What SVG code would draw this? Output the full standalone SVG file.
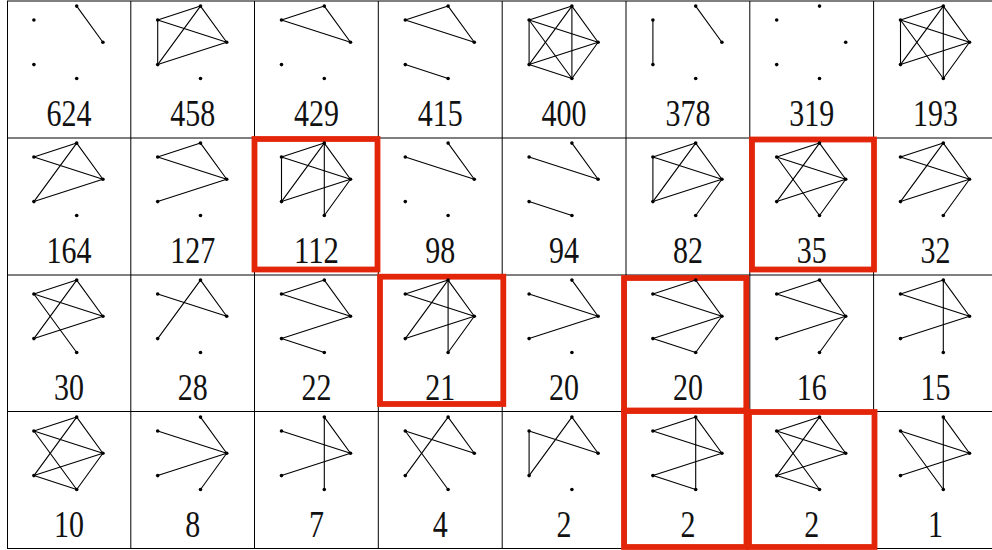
<svg xmlns="http://www.w3.org/2000/svg" xmlns:xlink="http://www.w3.org/1999/xlink" width="992" height="550" viewBox="0 0 992 550">
<style>
.grid line{stroke:#000;stroke-width:1}
.hl rect{fill:none;stroke:#e3260a;stroke-width:5.8}
.edge{stroke:#000;stroke-width:1.1;fill:none;stroke-linecap:round}
.dot{fill:#000}
.lbl{font-family:"Liberation Serif","DejaVu Serif",serif;font-size:38px;fill:#111;text-anchor:middle}
</style>
<defs>
<g id="dots" class="dot">
<circle cx="11.3" cy="-36.2" r="1.8"/>
<circle cx="-31.5" cy="-22.3" r="1.8"/>
<circle cx="37.5" cy="0" r="1.8"/>
<circle cx="-31.5" cy="22.3" r="1.8"/>
<circle cx="11.3" cy="36.2" r="1.8"/>
</g>
<path id="TU" d="M11.3,-36.2L-31.5,-22.3"/>
<path id="TR" d="M11.3,-36.2L37.5,0"/>
<path id="TL" d="M11.3,-36.2L-31.5,22.3"/>
<path id="TB" d="M11.3,-36.2L11.3,36.2"/>
<path id="UR" d="M-31.5,-22.3L37.5,0"/>
<path id="UL" d="M-31.5,-22.3L-31.5,22.3"/>
<path id="UB" d="M-31.5,-22.3L11.3,36.2"/>
<path id="LR" d="M-31.5,22.3L37.5,0"/>
<path id="LB" d="M-31.5,22.3L11.3,36.2"/>
<path id="RB" d="M37.5,0L11.3,36.2"/>
</defs>
<rect width="992" height="550" fill="#fff"/>
<g id="grid" class="grid">
<line x1="7" y1="1" x2="992" y2="1"/>
<line x1="7" y1="138" x2="992" y2="138"/>
<line x1="7" y1="275" x2="992" y2="275"/>
<line x1="7" y1="411.5" x2="992" y2="411.5"/>
<line x1="7" y1="548.5" x2="992" y2="548.5"/>
<line x1="7.5" y1="1" x2="7.5" y2="548.5"/>
<line x1="130.8" y1="1" x2="130.8" y2="548.5"/>
<line x1="254.5" y1="1" x2="254.5" y2="548.5"/>
<line x1="378.3" y1="1" x2="378.3" y2="548.5"/>
<line x1="502.2" y1="1" x2="502.2" y2="548.5"/>
<line x1="626" y1="1" x2="626" y2="548.5"/>
<line x1="749.8" y1="1" x2="749.8" y2="548.5"/>
<line x1="873.6" y1="1" x2="873.6" y2="548.5"/>
</g>
<g id="highlights" class="hl">
<rect x="254.5" y="139" width="123" height="130.5"/>
<rect x="752" y="139.5" width="122" height="130"/>
<rect x="380" y="276.7" width="123.3" height="127.3"/>
<rect x="624" y="278" width="122.3" height="132.5"/>
<rect x="624" y="411" width="122.5" height="136"/>
<rect x="749" y="412" width="125.5" height="135"/>
</g>
<g id="connectors" class="edge">
<g transform="translate(65.4,42.3)"><use href="#TR"/></g>
<g transform="translate(189.2,42.3)"><use href="#TU"/><use href="#UR"/><use href="#UL"/><use href="#TR"/><use href="#TL"/><use href="#LR"/></g>
<g transform="translate(313,42.3)"><use href="#TU"/><use href="#TR"/><use href="#UR"/></g>
<g transform="translate(436.8,42.3)"><use href="#TU"/><use href="#TR"/><use href="#UR"/><use href="#LB"/></g>
<g transform="translate(560.6,42.3)"><use href="#TU"/><use href="#TR"/><use href="#TL"/><use href="#TB"/><use href="#UR"/><use href="#UL"/><use href="#UB"/><use href="#LR"/><use href="#LB"/><use href="#RB"/></g>
<g transform="translate(684.4,42.3)"><use href="#UL"/><use href="#TR"/></g>
<g transform="translate(932,42.3)"><use href="#TU"/><use href="#TR"/><use href="#TL"/><use href="#TB"/><use href="#UR"/><use href="#UL"/><use href="#UB"/><use href="#LR"/><use href="#RB"/></g>

<g transform="translate(65.4,179.3)"><use href="#TU"/><use href="#UR"/><use href="#TR"/><use href="#TL"/><use href="#LR"/></g>
<g transform="translate(189.2,179.3)"><use href="#TU"/><use href="#UR"/><use href="#TR"/><use href="#LR"/></g>
<g transform="translate(313,179.3)"><use href="#TU"/><use href="#UR"/><use href="#UL"/><use href="#TL"/><use href="#TR"/><use href="#TB"/><use href="#LR"/><use href="#RB"/></g>
<g transform="translate(436.8,179.3)"><use href="#UR"/><use href="#TR"/></g>
<g transform="translate(560.6,179.3)"><use href="#UR"/><use href="#TR"/><use href="#LB"/></g>
<g transform="translate(684.4,179.3)"><use href="#TU"/><use href="#UR"/><use href="#UL"/><use href="#TL"/><use href="#TR"/><use href="#LR"/><use href="#RB"/></g>
<g transform="translate(808.2,179.3)"><use href="#TU"/><use href="#UR"/><use href="#UB"/><use href="#TL"/><use href="#TR"/><use href="#LR"/><use href="#RB"/></g>
<g transform="translate(932,179.3)"><use href="#TU"/><use href="#UR"/><use href="#TR"/><use href="#TL"/><use href="#LR"/><use href="#RB"/></g>

<g transform="translate(65.4,316.3)"><use href="#TU"/><use href="#UR"/><use href="#UB"/><use href="#TL"/><use href="#TR"/><use href="#LR"/></g>
<g transform="translate(189.2,316.3)"><use href="#UR"/><use href="#TR"/><use href="#TL"/></g>
<g transform="translate(313,316.3)"><use href="#TU"/><use href="#UR"/><use href="#TR"/><use href="#LR"/><use href="#LB"/></g>
<g transform="translate(436.8,316.3)"><use href="#TU"/><use href="#UR"/><use href="#TL"/><use href="#TR"/><use href="#TB"/><use href="#LR"/><use href="#RB"/></g>
<g transform="translate(560.6,316.3)"><use href="#UR"/><use href="#TR"/><use href="#LR"/></g>
<g transform="translate(684.4,316.3)"><use href="#TU"/><use href="#UR"/><use href="#TR"/><use href="#LR"/><use href="#LB"/><use href="#RB"/></g>
<g transform="translate(808.2,316.3)"><use href="#TU"/><use href="#UR"/><use href="#TR"/><use href="#LR"/><use href="#RB"/></g>
<g transform="translate(932,316.3)"><use href="#TU"/><use href="#UR"/><use href="#TR"/><use href="#TB"/><use href="#LR"/></g>

<g transform="translate(65.4,453.3)"><use href="#TU"/><use href="#UR"/><use href="#UB"/><use href="#TL"/><use href="#TR"/><use href="#LR"/><use href="#LB"/><use href="#RB"/></g>
<g transform="translate(189.2,453.3)"><use href="#UR"/><use href="#TR"/><use href="#LR"/><use href="#RB"/></g>
<g transform="translate(313,453.3)"><use href="#UR"/><use href="#TR"/><use href="#TB"/><use href="#LR"/></g>
<g transform="translate(436.8,453.3)"><use href="#UR"/><use href="#UB"/><use href="#TL"/><use href="#TR"/></g>
<g transform="translate(560.6,453.3)"><use href="#UL"/><use href="#UR"/><use href="#TL"/><use href="#TR"/></g>
<g transform="translate(684.4,453.3)"><use href="#TU"/><use href="#UR"/><use href="#TR"/><use href="#TB"/><use href="#LR"/><use href="#LB"/></g>
<g transform="translate(808.2,453.3)"><use href="#TU"/><use href="#UR"/><use href="#UB"/><use href="#TL"/><use href="#TR"/><use href="#LR"/><use href="#LB"/></g>
<g transform="translate(932,453.3)"><use href="#UR"/><use href="#UB"/><use href="#TR"/><use href="#TB"/><use href="#LR"/></g>
</g>

<g id="cell-1-1"><use href="#dots" x="65.4" y="42.3"/><text class="lbl" x="68.9" y="125.8" textLength="45" lengthAdjust="spacingAndGlyphs">624</text></g>
<g id="cell-1-2"><use href="#dots" x="189.2" y="42.3"/><text class="lbl" x="192.7" y="125.8" textLength="45" lengthAdjust="spacingAndGlyphs">458</text></g>
<g id="cell-1-3"><use href="#dots" x="313" y="42.3"/><text class="lbl" x="316.5" y="125.8" textLength="45" lengthAdjust="spacingAndGlyphs">429</text></g>
<g id="cell-1-4"><use href="#dots" x="436.8" y="42.3"/><text class="lbl" x="440.3" y="125.8" textLength="45" lengthAdjust="spacingAndGlyphs">415</text></g>
<g id="cell-1-5"><use href="#dots" x="560.6" y="42.3"/><text class="lbl" x="564.1" y="125.8" textLength="45" lengthAdjust="spacingAndGlyphs">400</text></g>
<g id="cell-1-6"><use href="#dots" x="684.4" y="42.3"/><text class="lbl" x="687.9" y="125.8" textLength="45" lengthAdjust="spacingAndGlyphs">378</text></g>
<g id="cell-1-7"><use href="#dots" x="808.2" y="42.3"/><text class="lbl" x="811.7" y="125.8" textLength="45" lengthAdjust="spacingAndGlyphs">319</text></g>
<g id="cell-1-8"><use href="#dots" x="932" y="42.3"/><text class="lbl" x="935.5" y="125.8" textLength="45" lengthAdjust="spacingAndGlyphs">193</text></g>

<g id="cell-2-1"><use href="#dots" x="65.4" y="179.3"/><text class="lbl" x="68.9" y="262.8" textLength="45" lengthAdjust="spacingAndGlyphs">164</text></g>
<g id="cell-2-2"><use href="#dots" x="189.2" y="179.3"/><text class="lbl" x="192.7" y="262.8" textLength="45" lengthAdjust="spacingAndGlyphs">127</text></g>
<g id="cell-2-3"><use href="#dots" x="313" y="179.3"/><text class="lbl" x="316.5" y="262.8" textLength="45" lengthAdjust="spacingAndGlyphs">112</text></g>
<g id="cell-2-4"><use href="#dots" x="436.8" y="179.3"/><text class="lbl" x="440.3" y="262.8" textLength="30" lengthAdjust="spacingAndGlyphs">98</text></g>
<g id="cell-2-5"><use href="#dots" x="560.6" y="179.3"/><text class="lbl" x="564.1" y="262.8" textLength="30" lengthAdjust="spacingAndGlyphs">94</text></g>
<g id="cell-2-6"><use href="#dots" x="684.4" y="179.3"/><text class="lbl" x="687.9" y="262.8" textLength="30" lengthAdjust="spacingAndGlyphs">82</text></g>
<g id="cell-2-7"><use href="#dots" x="808.2" y="179.3"/><text class="lbl" x="811.7" y="262.8" textLength="30" lengthAdjust="spacingAndGlyphs">35</text></g>
<g id="cell-2-8"><use href="#dots" x="932" y="179.3"/><text class="lbl" x="935.5" y="262.8" textLength="30" lengthAdjust="spacingAndGlyphs">32</text></g>

<g id="cell-3-1"><use href="#dots" x="65.4" y="316.3"/><text class="lbl" x="68.9" y="399.8" textLength="30" lengthAdjust="spacingAndGlyphs">30</text></g>
<g id="cell-3-2"><use href="#dots" x="189.2" y="316.3"/><text class="lbl" x="192.7" y="399.8" textLength="30" lengthAdjust="spacingAndGlyphs">28</text></g>
<g id="cell-3-3"><use href="#dots" x="313" y="316.3"/><text class="lbl" x="316.5" y="399.8" textLength="30" lengthAdjust="spacingAndGlyphs">22</text></g>
<g id="cell-3-4"><use href="#dots" x="436.8" y="316.3"/><text class="lbl" x="440.3" y="399.8" textLength="30" lengthAdjust="spacingAndGlyphs">21</text></g>
<g id="cell-3-5"><use href="#dots" x="560.6" y="316.3"/><text class="lbl" x="564.1" y="399.8" textLength="30" lengthAdjust="spacingAndGlyphs">20</text></g>
<g id="cell-3-6"><use href="#dots" x="684.4" y="316.3"/><text class="lbl" x="687.9" y="399.8" textLength="30" lengthAdjust="spacingAndGlyphs">20</text></g>
<g id="cell-3-7"><use href="#dots" x="808.2" y="316.3"/><text class="lbl" x="811.7" y="399.8" textLength="30" lengthAdjust="spacingAndGlyphs">16</text></g>
<g id="cell-3-8"><use href="#dots" x="932" y="316.3"/><text class="lbl" x="935.5" y="399.8" textLength="30" lengthAdjust="spacingAndGlyphs">15</text></g>

<g id="cell-4-1"><use href="#dots" x="65.4" y="453.3"/><text class="lbl" x="68.9" y="536.8" textLength="30" lengthAdjust="spacingAndGlyphs">10</text></g>
<g id="cell-4-2"><use href="#dots" x="189.2" y="453.3"/><text class="lbl" x="192.7" y="536.8" textLength="15" lengthAdjust="spacingAndGlyphs">8</text></g>
<g id="cell-4-3"><use href="#dots" x="313" y="453.3"/><text class="lbl" x="316.5" y="536.8" textLength="15" lengthAdjust="spacingAndGlyphs">7</text></g>
<g id="cell-4-4"><use href="#dots" x="436.8" y="453.3"/><text class="lbl" x="440.3" y="536.8" textLength="15" lengthAdjust="spacingAndGlyphs">4</text></g>
<g id="cell-4-5"><use href="#dots" x="560.6" y="453.3"/><text class="lbl" x="564.1" y="536.8" textLength="15" lengthAdjust="spacingAndGlyphs">2</text></g>
<g id="cell-4-6"><use href="#dots" x="684.4" y="453.3"/><text class="lbl" x="687.9" y="536.8" textLength="15" lengthAdjust="spacingAndGlyphs">2</text></g>
<g id="cell-4-7"><use href="#dots" x="808.2" y="453.3"/><text class="lbl" x="811.7" y="536.8" textLength="15" lengthAdjust="spacingAndGlyphs">2</text></g>
<g id="cell-4-8"><use href="#dots" x="932" y="453.3"/><text class="lbl" x="935.5" y="536.8" textLength="15" lengthAdjust="spacingAndGlyphs">1</text></g>
</svg>
